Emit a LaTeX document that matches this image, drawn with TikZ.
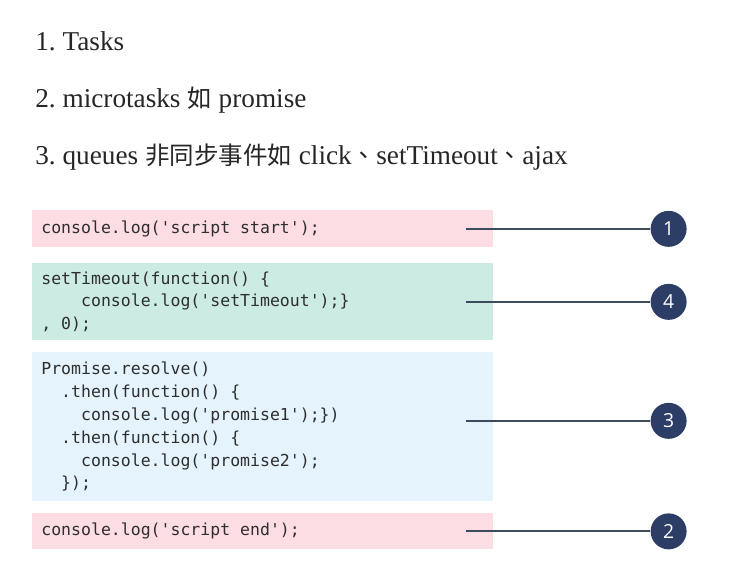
\documentclass[tikz,border=0pt]{standalone}
\usepackage{fontspec}
\setmainfont{Liberation Serif}
\setsansfont{Open Sans}
\setmonofont{DejaVu Sans Mono}
\newfontfamily\cjk{Noto Sans CJK TC}[Scale=0.9]
\usetikzlibrary{calc}
\frenchspacing
\definecolor{pinkbg}{HTML}{FDDDE4}
\definecolor{greenbg}{HTML}{CCEBE3}
\definecolor{bluebg}{HTML}{E4F3FC}
\definecolor{navy}{HTML}{2C3D66}
\definecolor{linegray}{HTML}{3E4B5E}
\definecolor{codegray}{HTML}{2E2E2E}
\newcommand\codeind[1]{\hspace*{#1em}}
\newcommand\ws{\hspace{0.602em}}
\tikzset{
	headline/.style={anchor=base west, inner sep=0pt, text=black!85, font=\fontsize{15.5}{18}\selectfont},
	codebox/.style={rectangle, anchor=north west, inner xsep=0.18cm, inner ysep=0pt, text width=8.86cm, minimum width=9.22cm, align=left, text=codegray, font=\ttfamily\fontsize{9.4}{13}\selectfont},
	numdot/.style={circle, fill=navy, text=white, minimum size=0.72cm, inner sep=0pt, font=\sffamily\fontsize{11}{11}\selectfont},
	leader/.style={draw=linegray, line width=1pt}
}
\begin{document}
\begin{tikzpicture}[x=0.02cm, y=-0.02cm]
	\useasboundingbox (0,0) rectangle (732,583);
	\node[headline] (tasks) at (35,50) {1. Tasks};
	\node[headline] (micro) at (35,107) {2. microtasks {\cjk 如} promise};
	\node[headline] (queues) at (35,164) {3. queues {\cjk 非同步事件如} click{\cjk 、}setTimeout{\cjk 、}ajax};
	\node[codebox, fill=pinkbg, minimum height=0.74cm] (cstart) at (32,210) {console.log('script\ws start');};
	\node[codebox, fill=greenbg, minimum height=1.54cm] (ctimeout) at (32,263) {setTimeout(function()\ws\{\\
		\codeind{2.408}console.log('setTimeout');\}\\
		,\ws0);};
	\node[codebox, fill=bluebg, minimum height=2.98cm] (cpromise) at (32,352) {Promise.resolve()\\
		\codeind{1.204}.then(function()\ws\{\\
		\codeind{2.408}console.log('promise1');\})\\
		\codeind{1.204}.then(function()\ws\{\\
		\codeind{2.408}console.log('promise2');\\
		\codeind{1.204}\});};
	\node[codebox, fill=pinkbg, minimum height=0.72cm] (cend) at (32,513) {console.log('script\ws end');};
	\foreach \b/\n/\dy in {cstart/1/0, ctimeout/4/0, cpromise/3/-6, cend/2/0} {
		\node[numdot] (n\n) at ($(\b.east)+(175,\dy)$) {\n};
		\coordinate (s\n) at ($(\b.east)+(-28,\dy)$);
		\draw[leader] (s\n) -- (n\n);
	}
\end{tikzpicture}
\end{document}
